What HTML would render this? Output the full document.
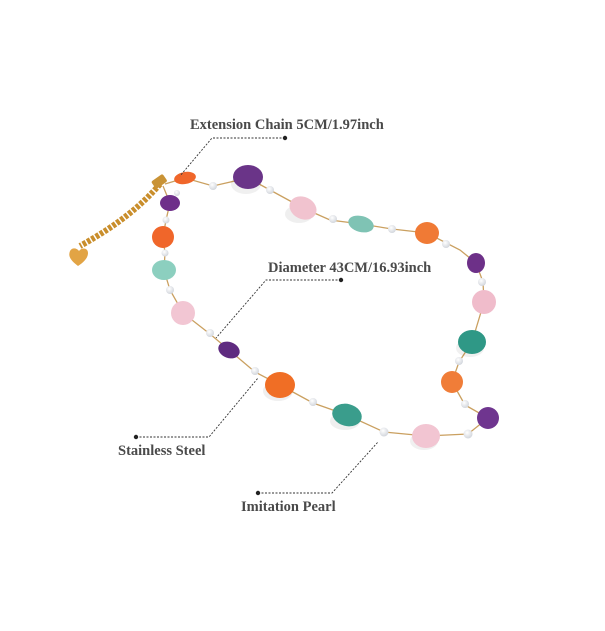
<!DOCTYPE html>
<html><head><meta charset="utf-8"><style>
html,body{margin:0;padding:0;background:#fff;}
svg{display:block}
text{font-family:"Liberation Serif",serif;font-weight:bold;fill:#4a4a4a;font-size:14.5px;}
</style></head><body>
<svg width="605" height="631" viewBox="0 0 605 631" xmlns="http://www.w3.org/2000/svg">
<defs>
<radialGradient id="pe" cx="40%" cy="35%" r="70%"><stop offset="0" stop-color="#fff"/><stop offset="1" stop-color="#cfd3da"/></radialGradient>
</defs>
<!-- extension chain -->
<path d="M160,184 C142,205 118,225 80,246" stroke="#c98e2c" stroke-width="6" fill="none" stroke-dasharray="3.5 1.5"/>
<rect x="152" y="177" width="14" height="9" rx="2" fill="#c99336" transform="rotate(-35 159 181)"/>
<path d="M78,266 C70,260 68,256 70,251 C72,247 77,248 79,251 C82,247 88,248 88,253 C88,258 84,262 78,266Z" fill="#e2a445"/>
<!-- main chain -->
<path d="M165,184 L185,178 L213,186 L248,178 L270,190 L303,208 L330,220 L361,224 L392,229 L427,233 L460,250 L476,263 L483,282 L484,302 L472,342 L459,362 L452,382 L465,405 L488,418 L468,434 L426,436 L384,432 L347,415 L313,403 L280,385 L255,372 L229,350 L210,334 L183,313 L170,290 L164,270 L165,253 L163,237 L166,220 L170,203 L163,186" stroke="#caa060" stroke-width="1.3" fill="none"/>
<!-- pearls -->
<g fill="url(#pe)">
<circle cx="213" cy="186" r="4"/><circle cx="270" cy="190" r="4"/><circle cx="333" cy="219" r="4"/><circle cx="392" cy="229" r="4"/>
<circle cx="446" cy="244" r="4"/><circle cx="482" cy="282" r="4"/><circle cx="459" cy="361" r="4"/><circle cx="465" cy="404" r="4"/>
<circle cx="468" cy="434" r="4.5"/><circle cx="384" cy="432" r="4.5"/><circle cx="313" cy="402" r="4"/><circle cx="255" cy="371" r="4"/>
<circle cx="210" cy="333" r="4"/><circle cx="170" cy="290" r="4"/><circle cx="165" cy="253" r="3.5"/><circle cx="166" cy="220" r="3.5"/><circle cx="177" cy="193" r="3"/>
</g>
<!-- stone shadows -->
<g fill="#000" opacity="0.06">
<ellipse cx="246" cy="184" rx="15" ry="10"/><ellipse cx="299" cy="214" rx="14" ry="9"/><ellipse cx="345" cy="421" rx="15" ry="9"/><ellipse cx="278" cy="391" rx="15" ry="10"/><ellipse cx="470" cy="348" rx="14" ry="9"/><ellipse cx="424" cy="441" rx="14" ry="9"/>
</g>
<!-- stones -->
<g>
<ellipse cx="185" cy="178" rx="11" ry="6" fill="#f0662a" transform="rotate(-10 185 178)"/>
<ellipse cx="170" cy="203" rx="10" ry="8" fill="#6e2f8a"/>
<ellipse cx="248" cy="177" rx="15" ry="12" fill="#6a3488"/>
<ellipse cx="303" cy="208" rx="14" ry="11" fill="#f1c3cf" transform="rotate(25 303 208)"/>
<ellipse cx="361" cy="224" rx="13" ry="8" fill="#7fc3b4" transform="rotate(15 361 224)"/>
<ellipse cx="427" cy="233" rx="12" ry="11" fill="#f07a35"/>
<ellipse cx="476" cy="263" rx="9" ry="10" fill="#6d3088"/>
<ellipse cx="484" cy="302" rx="12" ry="12" fill="#f0bccb"/>
<ellipse cx="472" cy="342" rx="14" ry="12" fill="#2f9886"/>
<ellipse cx="452" cy="382" rx="11" ry="11" fill="#f07d38"/>
<ellipse cx="488" cy="418" rx="11" ry="11" fill="#6f358f"/>
<ellipse cx="426" cy="436" rx="14" ry="12" fill="#f2c5d2"/>
<ellipse cx="347" cy="415" rx="15" ry="11" fill="#3a9d8c" transform="rotate(15 347 415)"/>
<ellipse cx="280" cy="385" rx="15" ry="13" fill="#f06e25"/>
<ellipse cx="229" cy="350" rx="11" ry="8" fill="#5f2b80" transform="rotate(20 229 350)"/>
<ellipse cx="183" cy="313" rx="12" ry="12" fill="#f2c6d3"/>
<ellipse cx="164" cy="270" rx="12" ry="10" fill="#8ccfbf"/>
<ellipse cx="163" cy="237" rx="11" ry="11" fill="#f0662a"/>
</g>
<!-- leader lines -->
<g stroke="#333" stroke-width="0.9" stroke-dasharray="2 1.5" fill="none">
<path d="M285,138 L212,138 L180,176"/>
<path d="M341,280 L266,280 L216,338"/>
<path d="M136,437 L209,437 L258,378"/>
<path d="M258,493 L332,493 L378,442"/>
</g>
<g fill="#222"><circle cx="285" cy="138" r="2.2"/><circle cx="341" cy="280" r="2.2"/><circle cx="136" cy="437" r="2.2"/><circle cx="258" cy="493" r="2.2"/></g>
<text x="190" y="129">Extension Chain 5CM/1.97inch</text>
<text x="268" y="272">Diameter 43CM/16.93inch</text>
<text x="118" y="455">Stainless Steel</text>
<text x="241" y="511">Imitation Pearl</text>
</svg>
</body></html>
